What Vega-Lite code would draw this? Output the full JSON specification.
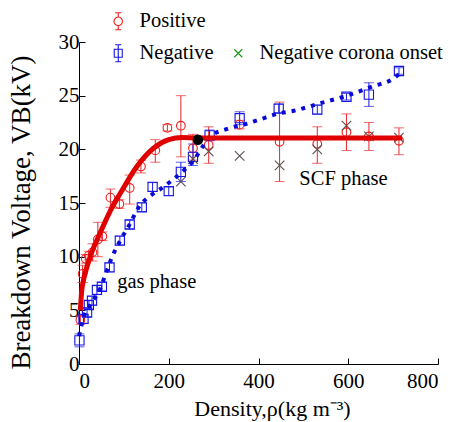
{
  "$schema": "https://vega.github.io/schema/vega-lite/v6.json",
  "autosize": "none",
  "width": 359,
  "height": 322,
  "padding": {"left": 79, "top": 42, "right": 17, "bottom": 58},
  "background": "white",
  "config": {
    "view": {"stroke": null},
    "axis": {"domainColor": "black", "tickColor": "black", "labelFont": "Liberation Serif, Times New Roman, serif", "labelFontSize": 21, "labelColor": "black", "titleFont": "Liberation Serif, Times New Roman, serif", "titleFontWeight": "normal", "titleColor": "black", "grid": false, "tickSize": -6, "domainWidth": 1, "tickWidth": 1},
    "legend": {"labelFont": "Liberation Serif, Times New Roman, serif", "labelFontSize": 20.5, "labelColor": "black", "labelLimit": 400}
  },
  "datasets": {
    "pts": [
      {"series": "Positive", "x": 3, "y": 4.1, "lo": 3.7, "hi": 4.5},
      {"series": "Positive", "x": 8, "y": 8.4, "lo": 7.6, "hi": 9.2},
      {"series": "Positive", "x": 15, "y": 9.8, "lo": 9.4, "hi": 10.2},
      {"series": "Positive", "x": 22, "y": 10.1, "lo": 9.7, "hi": 10.5},
      {"series": "Positive", "x": 30, "y": 10.4, "lo": 9.6, "hi": 11.2},
      {"series": "Positive", "x": 42, "y": 11.6, "lo": 10.0, "hi": 13.2},
      {"series": "Positive", "x": 52, "y": 11.9, "lo": 11.5, "hi": 12.3},
      {"series": "Positive", "x": 70, "y": 15.5, "lo": 14.6, "hi": 16.3},
      {"series": "Positive", "x": 90, "y": 14.9, "lo": 14.5, "hi": 15.3},
      {"series": "Positive", "x": 113, "y": 16.4, "lo": 14.9, "hi": 17.6},
      {"series": "Positive", "x": 138, "y": 18.4, "lo": 17.8, "hi": 19.0},
      {"series": "Positive", "x": 170, "y": 19.9, "lo": 18.8, "hi": 20.9},
      {"series": "Positive", "x": 197, "y": 22.0, "lo": 21.7, "hi": 22.3},
      {"series": "Positive", "x": 227, "y": 22.2, "lo": 19.3, "hi": 25.0},
      {"series": "Positive", "x": 254, "y": 20.1, "lo": 19.0, "hi": 21.4},
      {"series": "Positive", "x": 289, "y": 20.4, "lo": 18.7, "hi": 22.1},
      {"series": "Positive", "x": 358, "y": 22.3, "lo": 21.9, "hi": 22.7},
      {"series": "Positive", "x": 447, "y": 20.7, "lo": 17.0, "hi": 24.4},
      {"series": "Positive", "x": 531, "y": 20.5, "lo": 18.7, "hi": 22.1},
      {"series": "Positive", "x": 596, "y": 21.6, "lo": 19.9, "hi": 23.3},
      {"series": "Positive", "x": 646, "y": 21.2, "lo": 19.9, "hi": 22.5},
      {"series": "Positive", "x": 713, "y": 20.8, "lo": 19.5, "hi": 22.0},
      {"series": "Negative", "x": 1, "y": 2.2, "lo": 1.6, "hi": 2.8},
      {"series": "Negative", "x": 10, "y": 4.2, "lo": 3.8, "hi": 4.6},
      {"series": "Negative", "x": 18, "y": 4.8, "lo": 4.4, "hi": 5.2},
      {"series": "Negative", "x": 22, "y": 5.5, "lo": 5.1, "hi": 5.9},
      {"series": "Negative", "x": 29, "y": 5.9, "lo": 5.5, "hi": 6.3},
      {"series": "Negative", "x": 40, "y": 6.9, "lo": 6.5, "hi": 7.3},
      {"series": "Negative", "x": 51, "y": 7.2, "lo": 6.8, "hi": 7.6},
      {"series": "Negative", "x": 68, "y": 9.0, "lo": 8.6, "hi": 9.4},
      {"series": "Negative", "x": 91, "y": 11.5, "lo": 11.1, "hi": 11.9},
      {"series": "Negative", "x": 113, "y": 13.0, "lo": 12.6, "hi": 13.4},
      {"series": "Negative", "x": 140, "y": 14.6, "lo": 14.2, "hi": 15.0},
      {"series": "Negative", "x": 164, "y": 16.5, "lo": 16.1, "hi": 16.9},
      {"series": "Negative", "x": 200, "y": 16.1, "lo": 15.7, "hi": 16.5},
      {"series": "Negative", "x": 227, "y": 17.9, "lo": 17.0, "hi": 18.8},
      {"series": "Negative", "x": 254, "y": 19.3, "lo": 18.5, "hi": 20.5},
      {"series": "Negative", "x": 291, "y": 21.3, "lo": 20.8, "hi": 21.8},
      {"series": "Negative", "x": 358, "y": 22.9, "lo": 22.3, "hi": 23.5},
      {"series": "Negative", "x": 445, "y": 23.8, "lo": 23.4, "hi": 24.2},
      {"series": "Negative", "x": 531, "y": 23.7, "lo": 23.3, "hi": 24.1},
      {"series": "Negative", "x": 596, "y": 24.9, "lo": 24.6, "hi": 25.2},
      {"series": "Negative", "x": 646, "y": 25.1, "lo": 24.0, "hi": 26.2},
      {"series": "Negative", "x": 713, "y": 27.3, "lo": 27.0, "hi": 27.6},
      {"series": "Negative corona onset", "x": 227, "y": 17.0},
      {"series": "Negative corona onset", "x": 254, "y": 19.1},
      {"series": "Negative corona onset", "x": 289, "y": 19.8},
      {"series": "Negative corona onset", "x": 358, "y": 19.4},
      {"series": "Negative corona onset", "x": 447, "y": 18.5},
      {"series": "Negative corona onset", "x": 531, "y": 20.0},
      {"series": "Negative corona onset", "x": 596, "y": 22.2},
      {"series": "Negative corona onset", "x": 646, "y": 21.2},
      {"series": "Negative corona onset", "x": 713, "y": 21.1}
    ],
    "fitPos": [
      {"x": 3, "y": 5.0}, {"x": 6, "y": 6.8}, {"x": 10, "y": 7.8}, {"x": 14, "y": 8.5},
      {"x": 25, "y": 10.0}, {"x": 47, "y": 12.2}, {"x": 70, "y": 14.3}, {"x": 92, "y": 15.9},
      {"x": 129, "y": 18.4}, {"x": 166, "y": 20.1}, {"x": 200, "y": 20.9}, {"x": 230, "y": 21.1},
      {"x": 265, "y": 21.05}, {"x": 720, "y": 21.05}
    ],
    "fitNeg": [
      {"x": 0, "y": 2.6}, {"x": 10, "y": 4.3}, {"x": 25, "y": 5.5}, {"x": 47, "y": 7.0},
      {"x": 62, "y": 8.7}, {"x": 74, "y": 10.0}, {"x": 92, "y": 11.5}, {"x": 114, "y": 13.1},
      {"x": 133, "y": 14.6}, {"x": 163, "y": 15.8}, {"x": 185, "y": 16.4}, {"x": 204, "y": 17.0},
      {"x": 227, "y": 17.8}, {"x": 256, "y": 19.0}, {"x": 278, "y": 20.4}, {"x": 293, "y": 21.2},
      {"x": 330, "y": 21.9}, {"x": 375, "y": 22.4}, {"x": 404, "y": 22.8}, {"x": 441, "y": 23.3},
      {"x": 479, "y": 23.6}, {"x": 538, "y": 24.3}, {"x": 597, "y": 25.0}, {"x": 657, "y": 25.9},
      {"x": 701, "y": 26.6}, {"x": 713, "y": 27.0}
    ],
    "dot": [{"x": 265, "y": 20.9}],
    "notes": [
      {"label": "gas phase", "x": 85, "y": 7.1},
      {"label": "SCF phase", "x": 491, "y": 16.65}
    ]
  },
  "encoding": {
    "x": {"field": "x", "type": "quantitative", "scale": {"domain": [0, 800], "nice": false},
      "axis": {"values": [0, 200, 400, 600, 800], "title": "Density,ρ(kg m⁻³)", "titleFontSize": 22, "labelPadding": 12, "titlePadding": 7, "titleX": 193}},
    "y": {"field": "y", "type": "quantitative", "scale": {"domain": [0, 30], "nice": false},
      "axis": {"values": [0, 5, 10, 15, 20, 25, 30], "title": "Breakdown Voltage, VB(kV)", "titleFontSize": 27, "labelPadding": 6, "titlePadding": 23, "titleY": 170}}
  },
  "layer": [
    {
      "data": {"name": "pts"},
      "transform": [{"filter": "datum.series === 'Positive'"}],
      "mark": {"type": "errorbar", "ticks": {"size": 10, "color": "#e8262b"}, "rule": {"color": "#e8262b", "strokeWidth": 1}},
      "encoding": {"y": {"field": "lo", "type": "quantitative"}, "y2": {"field": "hi"}}
    },
    {
      "data": {"name": "pts"},
      "transform": [{"filter": "datum.series === 'Negative'"}],
      "mark": {"type": "errorbar", "ticks": {"size": 10, "color": "#1a1ae6"}, "rule": {"color": "#1a1ae6", "strokeWidth": 1}},
      "encoding": {"y": {"field": "lo", "type": "quantitative"}, "y2": {"field": "hi"}}
    },
    {
      "data": {"name": "pts"},
      "transform": [{"filter": "datum.series === 'Positive'"}],
      "mark": {"type": "point", "shape": "circle", "size": 75, "filled": false, "color": "#f01c1c", "strokeWidth": 1.1, "opacity": 1}
    },
    {
      "data": {"name": "pts"},
      "transform": [{"filter": "datum.series === 'Negative'"}],
      "mark": {"type": "point", "shape": "square", "size": 85, "filled": false, "color": "#1414e6", "strokeWidth": 1.1, "opacity": 1}
    },
    {
      "data": {"name": "pts"},
      "transform": [{"filter": "datum.series === 'Negative corona onset'"}],
      "mark": {"type": "point", "shape": "M-1,-1L1,1M-1,1L1,-1", "size": 90, "filled": false, "color": "#5e4e4e", "strokeWidth": 1.1, "opacity": 1}
    },
    {
      "data": {"name": "fitNeg"},
      "mark": {"type": "line", "color": "#0a0ad8", "strokeWidth": 4, "strokeDash": [4, 6], "interpolate": "monotone"},
      "encoding": {}
    },
    {
      "data": {"name": "fitPos"},
      "mark": {"type": "line", "color": "#e00000", "strokeWidth": 5, "interpolate": "monotone"},
      "encoding": {}
    },
    {
      "data": {"name": "dot"},
      "mark": {"type": "point", "shape": "circle", "size": 110, "filled": true, "color": "black", "opacity": 1}
    },
    {
      "data": {"name": "notes"},
      "mark": {"type": "text", "align": "left", "baseline": "alphabetic", "font": "Liberation Serif, Times New Roman, serif", "fontSize": 20.5, "color": "black"},
      "encoding": {"text": {"field": "label"}}
    },
    {
      "data": {"name": "pts"},
      "transform": [{"filter": "datum.x < 0"}],
      "mark": {"type": "point", "filled": false, "strokeWidth": 1.1, "opacity": 1},
      "encoding": {
        "color": {"field": "series", "type": "nominal",
          "scale": {"domain": ["Positive", "Negative", "\u00a0", "Negative corona onset"], "range": ["#f01c1c", "#1414e6", "transparent", "#119911"]},
          "legend": {"title": null, "orient": "none", "legendX": 29, "legendY": -31, "columns": 2, "columnPadding": 14, "rowPadding": 10, "symbolStrokeWidth": 1.1, "labelOffset": 11, "padding": 0, "labelFontSize": 20.5, "labelLimit": 400}},
        "shape": {"field": "series", "type": "nominal",
          "scale": {"domain": ["Positive", "Negative", "\u00a0", "Negative corona onset"], "range": [
            "M0,-1.7L0,-0.85M0,0.85L0,1.7M-0.6,-1.7L0.6,-1.7M-0.6,1.7L0.6,1.7M0.85,0A0.85,0.85,0,1,1,-0.85,0A0.85,0.85,0,1,1,0.85,0",
            "M-0.8,-0.8L0.8,-0.8L0.8,0.8L-0.8,0.8ZM0,-1.7L0,1.7M-0.6,-1.7L0.6,-1.7M-0.6,1.7L0.6,1.7",
            "M0,0",
            "M-0.8,-0.8L0.8,0.8M-0.8,0.8L0.8,-0.8"]}}
      }
    }
  ]
}
